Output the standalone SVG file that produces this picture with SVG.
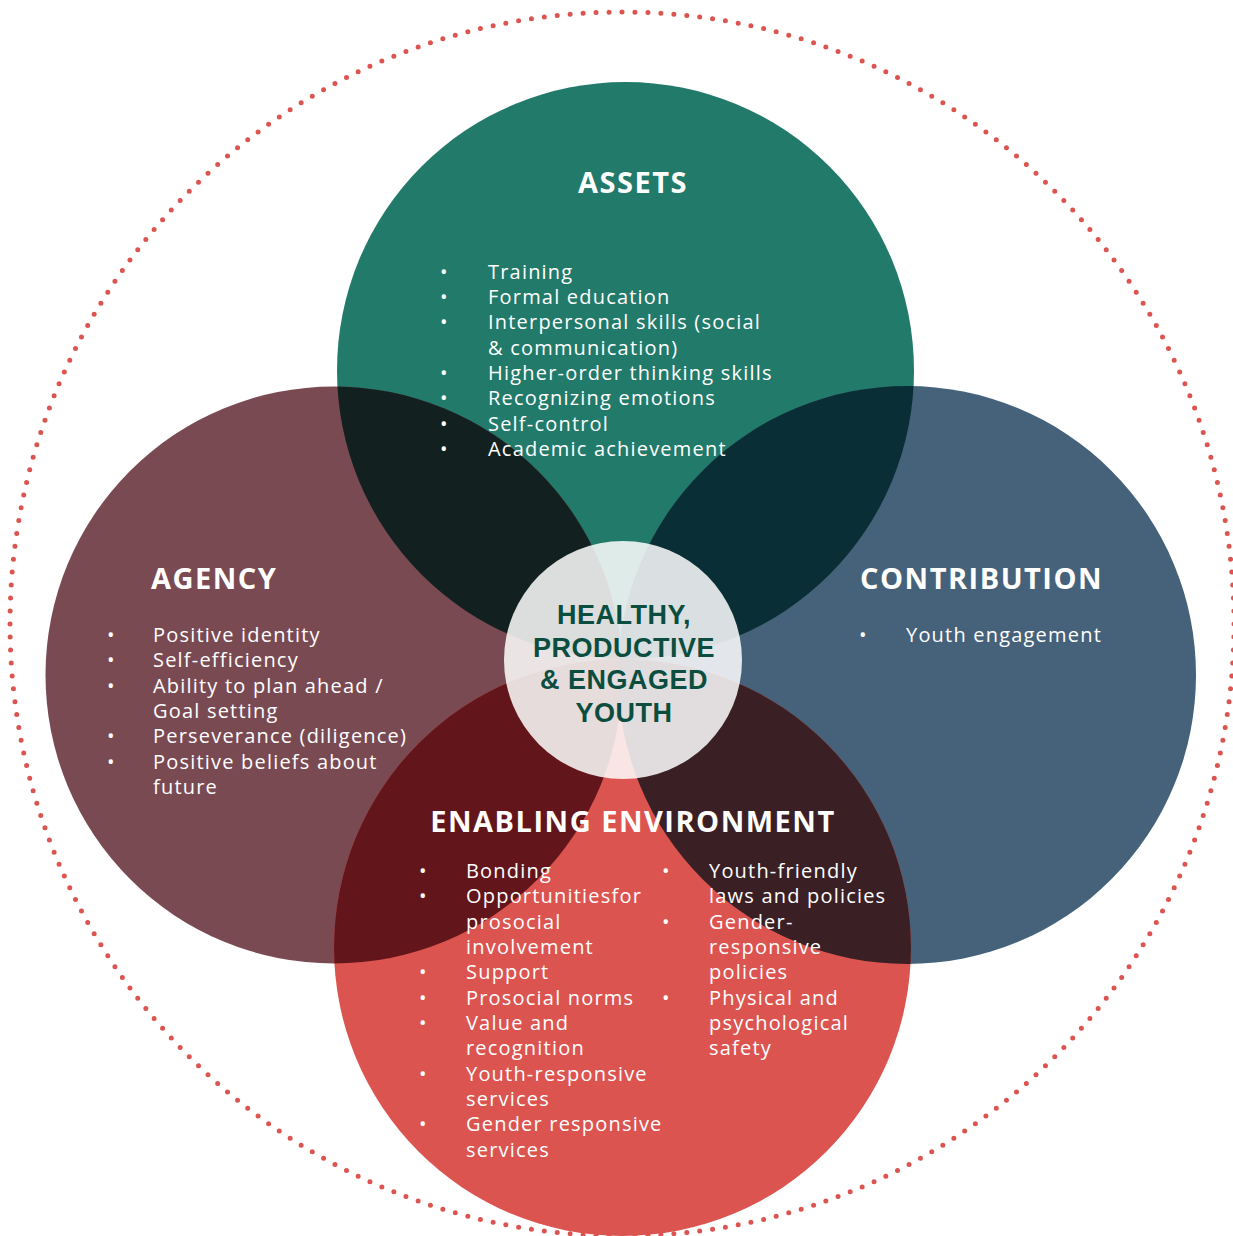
<svg xmlns="http://www.w3.org/2000/svg" width="1233" height="1236" viewBox="0 0 1233 1236">
  <style>
    .item { font-family: "Open Sans", "Liberation Sans", sans-serif; font-size: 20px; letter-spacing: 1.2px; fill: #ffffff; }
    .bullet { font-family: "Open Sans", "Liberation Sans", sans-serif; font-size: 20px; fill: #ffffff; }
    .title { font-family: "Open Sans", "Liberation Sans", sans-serif; font-size: 29px; font-weight: 700; letter-spacing: 1.5px; fill: #ffffff; }
    .hub { font-family: "Liberation Sans", Arial, sans-serif; font-size: 27px; font-weight: 700; letter-spacing: 0.5px; fill: #0b4d3f; text-anchor: middle; }
  </style>
  <defs>
    <clipPath id="clip-assets"><circle cx="625.5" cy="370.5" r="288.5"/></clipPath>
    <clipPath id="clip-enabling"><circle cx="622.5" cy="947.5" r="288.5"/></clipPath>
  </defs>

  <rect width="1233" height="1236" fill="#ffffff"/>

  <!-- dotted boundary ring -->
  <circle id="boundary" cx="622" cy="624" r="612" fill="none" stroke="#dc5450" stroke-width="5" stroke-linecap="round" stroke-dasharray="0 1" pathLength="296"/>

  <g id="node-assets">
    <circle cx="625.5" cy="370.5" r="288.5" fill="#227a6a"/>
  </g>
  <g id="node-agency">
    <circle cx="334" cy="675" r="288.5" fill="#7a4a53"/>
  </g>
  <g id="node-contribution">
    <circle cx="907" cy="675" r="289" fill="#46627a"/>
  </g>
  <g id="node-enabling">
    <circle cx="622.5" cy="947.5" r="288.5" fill="#dc5450"/>
  </g>

  <!-- pairwise overlaps -->
  <g id="overlaps">
    <circle cx="334" cy="675" r="288.5" fill="#122120" clip-path="url(#clip-assets)"/>
    <circle cx="907" cy="675" r="289" fill="#0a2e35" clip-path="url(#clip-assets)"/>
    <circle cx="334" cy="675" r="288.5" fill="#62151a" clip-path="url(#clip-enabling)"/>
    <circle cx="907" cy="675" r="289" fill="#3a2025" clip-path="url(#clip-enabling)"/>
  </g>

  <!-- centre hub -->
  <g id="node-hub">
    <circle cx="623" cy="660" r="119" fill="#ffffff" fill-opacity="0.85"/>
    <text class="hub" x="624" y="624">HEALTHY,</text>
    <text class="hub" x="624" y="657">PRODUCTIVE</text>
    <text class="hub" x="624" y="689">&amp; ENGAGED</text>
    <text class="hub" x="624" y="722">YOUTH</text>
  </g>

  <!-- labels for each circle -->
  <g id="label-assets">
    <text class="title" x="633" y="193" text-anchor="middle">ASSETS</text>
    <g class="bullet">
      <text x="440" y="279">•</text>
      <text x="440" y="304">•</text>
      <text x="440" y="329">•</text>
      <text x="440" y="380">•</text>
      <text x="440" y="405">•</text>
      <text x="440" y="431">•</text>
      <text x="440" y="456">•</text>
    </g>
    <text class="item" x="488" y="279">Training</text>
    <text class="item" x="488" y="304">Formal education</text>
    <text class="item" x="488" y="329">Interpersonal skills (social</text>
    <text class="item" x="488" y="355">&amp; communication)</text>
    <text class="item" x="488" y="380">Higher-order thinking skills</text>
    <text class="item" x="488" y="405">Recognizing emotions</text>
    <text class="item" x="488" y="431">Self-control</text>
    <text class="item" x="488" y="456">Academic achievement</text>
  </g>

  <g id="label-agency">
    <text class="title" x="151" y="589">AGENCY</text>
    <g class="bullet">
      <text x="107" y="642">•</text>
      <text x="107" y="667">•</text>
      <text x="107" y="693">•</text>
      <text x="107" y="743">•</text>
      <text x="107" y="769">•</text>
    </g>
    <text class="item" x="153" y="642">Positive identity</text>
    <text class="item" x="153" y="667">Self-efficiency</text>
    <text class="item" x="153" y="693">Ability to plan ahead /</text>
    <text class="item" x="153" y="718">Goal setting</text>
    <text class="item" x="153" y="743">Perseverance (diligence)</text>
    <text class="item" x="153" y="769">Positive beliefs about</text>
    <text class="item" x="153" y="794">future</text>
  </g>

  <g id="label-contribution">
    <text class="title" x="860" y="589">CONTRIBUTION</text>
    <text class="bullet" x="859" y="642">•</text>
    <text class="item" x="906" y="642">Youth engagement</text>
  </g>

  <g id="label-enabling">
    <text class="title" x="633" y="832" text-anchor="middle">ENABLING ENVIRONMENT</text>
    <g class="bullet">
      <text x="419" y="878">•</text>
      <text x="419" y="903">•</text>
      <text x="419" y="979">•</text>
      <text x="419" y="1005">•</text>
      <text x="419" y="1030">•</text>
      <text x="419" y="1081">•</text>
      <text x="419" y="1131">•</text>
      <text x="662" y="878">•</text>
      <text x="662" y="929">•</text>
      <text x="662" y="1005">•</text>
    </g>
    <text class="item" x="466" y="878">Bonding</text>
    <text class="item" x="466" y="903">Opportunitiesfor</text>
    <text class="item" x="466" y="929">prosocial</text>
    <text class="item" x="466" y="954">involvement</text>
    <text class="item" x="466" y="979">Support</text>
    <text class="item" x="466" y="1005">Prosocial norms</text>
    <text class="item" x="466" y="1030">Value and</text>
    <text class="item" x="466" y="1055">recognition</text>
    <text class="item" x="466" y="1081">Youth-responsive</text>
    <text class="item" x="466" y="1106">services</text>
    <text class="item" x="466" y="1131">Gender responsive</text>
    <text class="item" x="466" y="1157">services</text>
    <text class="item" x="709" y="878">Youth-friendly</text>
    <text class="item" x="709" y="903">laws and policies</text>
    <text class="item" x="709" y="929">Gender-</text>
    <text class="item" x="709" y="954">responsive</text>
    <text class="item" x="709" y="979">policies</text>
    <text class="item" x="709" y="1005">Physical and</text>
    <text class="item" x="709" y="1030">psychological</text>
    <text class="item" x="709" y="1055">safety</text>
  </g>
</svg>
